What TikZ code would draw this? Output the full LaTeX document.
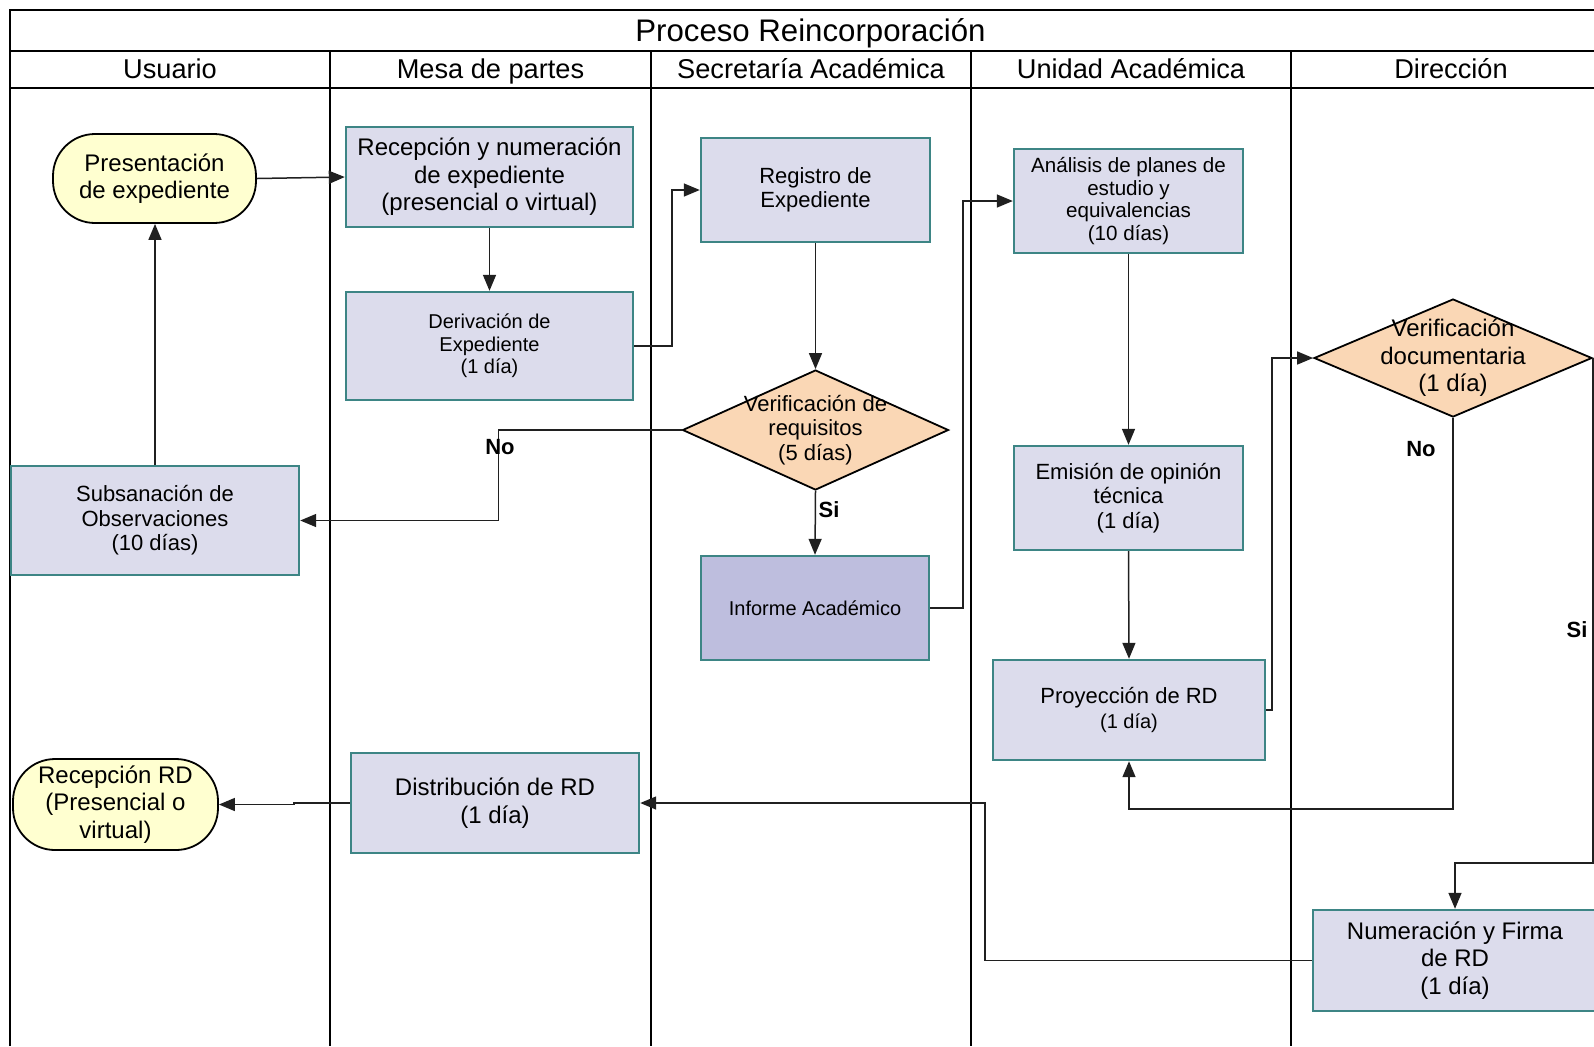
\documentclass[tikz,border=0pt]{standalone}
\usepackage{fontspec}
\setmainfont{Liberation Sans}
\usetikzlibrary{arrows.meta,shapes.geometric}

\definecolor{boxfill}{HTML}{DCDCEC}
\definecolor{infofill}{HTML}{BEBEDE}
\definecolor{decfill}{HTML}{FAD7B5}
\definecolor{termfill}{HTML}{FFFFD0}
\definecolor{boxline}{HTML}{3D8585}
\definecolor{flowline}{HTML}{202020}

\newcommand\fsTitle{\fontsize{15.6}{19}\selectfont}
\newcommand\fsHead{\fontsize{13.6}{16}\selectfont}
\newcommand\fsBig{\fontsize{12}{13.8}\selectfont}
\newcommand\fsMid{\fontsize{11}{12.2}\selectfont}
\newcommand\fsAnal{\fontsize{10.3}{11.3}\selectfont}
\newcommand\fsSmall{\fontsize{10}{11.2}\selectfont}

\begin{document}
\begin{tikzpicture}[x=0.5pt,y=-0.5pt,
  lane/.style={line width=1pt,draw=black},
  headtext/.style={anchor=base,inner sep=0pt},
  procbox/.style={draw=boxline,line width=1.2pt,fill=boxfill,align=center,
    inner sep=0pt,font=\fsMid},
  infobox/.style={procbox,fill=infofill},
  termbox/.style={draw=black,line width=0.9pt,fill=termfill,align=center,
    inner sep=0pt,rounded corners=21pt,font=\fsBig},
  decbox/.style={diamond,draw=black,line width=0.9pt,fill=decfill,
    inner sep=0pt,aspect=2},
  dectext/.style={align=center,inner sep=0pt},
  flow/.style={draw=flowline,line width=0.75pt,
    -{Triangle[length=8pt,width=6.5pt]}},
  lbl/.style={font=\bfseries\fsMid,inner sep=0pt}]

\useasboundingbox (0,0) rectangle (1594,1046);
\begin{scope}
\clip (0,0) rectangle (1594,1046);

% swimlane frame
\draw[lane] (10,1046) -- (10,10) -- (1611,10) -- (1611,1046);
\draw[lane] (10,51) -- (1611,51);
\draw[lane] (10,88) -- (1611,88);
\foreach \lx in {330,651,971,1291}
  \draw[lane] (\lx,51) -- (\lx,1046);

\node[headtext,font=\fsTitle] (title) at (810.5,41) {Proceso Reincorporación};
\node[headtext,font=\fsHead] (h1) at (170,78.5) {Usuario};
\node[headtext,font=\fsHead] (h2) at (490.5,78.5) {Mesa de partes};
\node[headtext,font=\fsHead] (h3) at (811,78.5) {Secretaría Académica};
\node[headtext,font=\fsHead] (h4) at (1131,78.5) {Unidad Académica};
\node[headtext,font=\fsHead] (h5) at (1451,78.5) {Dirección};

% Usuario
\node[termbox,minimum width=101.5pt,minimum height=44.5pt] (pres) at (154.5,178.5)
  {Presentación\\de expediente};
\node[procbox,font=\fsMid,minimum width=144pt,minimum height=54.5pt] (sub) at (155,520.5)
  {Subsanación de\\Observaciones\\(10 días)};
\node[termbox,minimum width=102.5pt,minimum height=45.5pt] (rrd) at (115.5,804.5)
  {Recepción RD\\(Presencial o\\virtual)};

% Mesa de partes
\node[procbox,font=\fsBig,minimum width=143.5pt,minimum height=50pt] (recep) at (489.5,177)
  {Recepción y numeración\\de expediente\\(presencial o virtual)};
\node[procbox,font=\fsSmall,minimum width=143.5pt,minimum height=54pt] (deriv) at (489.5,346)
  {Derivación de\\Expediente\\(1 día)};
\node[procbox,font=\fsBig,minimum width=144pt,minimum height=50pt] (dist) at (495,803)
  {Distribución de RD\\(1 día)};

% Secretaría Académica
\node[procbox,minimum width=114.5pt,minimum height=52pt] (reg) at (815.5,190)
  {Registro de\\Expediente};
\node[decbox,minimum width=133pt,minimum height=60pt,
  label={[dectext,font=\fsMid]center:{Verificación de\\requisitos\\(5 días)}}] (d1) at (815.5,430) {};
\node[infobox,font=\fsSmall,minimum width=114pt,minimum height=52pt] (inf) at (815,608)
  {Informe Académico};

% Unidad Académica
\node[procbox,font=\fsAnal,minimum width=114.5pt,minimum height=52pt] (anal) at (1128.5,201)
  {Análisis de planes de\\estudio y\\equivalencias\\(10 días)};
\node[procbox,minimum width=114.5pt,minimum height=52pt] (emis) at (1128.5,498)
  {Emisión de opinión\\técnica\\(1 día)};
\node[procbox,minimum width=136pt,minimum height=50pt] (proy) at (1129,710)
  {Proyección de RD\\{\fsSmall(1 día)}};

% Dirección
\node[decbox,minimum width=139pt,minimum height=59pt,
  label={[dectext,font=\fsBig]center:{Verificación\\documentaria\\(1 día)}}] (d2) at (1453,358) {};
\node[procbox,font=\fsBig,minimum width=142pt,minimum height=50.5pt] (num) at (1455,960.5)
  {Numeración y Firma\\de RD\\(1 día)};

% connectors
\draw[flow] (pres.east) -- (recep.west);
\draw[flow] (recep.south) -- (deriv.north);
\draw[flow] (deriv.east) -- ++(38,0) |- (reg.west);
\draw[flow] (reg.south) -- (d1.north);
\draw[flow] (d1.west) -- ++(-183,0) |- (sub.east);
\draw[flow] (d1.south) -- (inf.north);
\draw[flow] (sub.north) -- (sub.north |- pres.south);
\draw[flow] (inf.east) -- ++(33,0) |- (anal.west);
\draw[flow] (anal.south) -- (emis.north);
\draw[flow] (emis.south) -- (proy.north);
\draw[flow] (proy.east) -- ++(6,0) |- (d2.west);
\draw[flow] (d2.south) -- ++(0,391) -| (proy.south);
\draw[flow] (d2.east) -- ++(0,505) -| (num.north);
\draw[flow] (num.west) -- ++(-327,0) |- (dist.east);
\draw[flow] (dist.west) -- ++(-56,0) |- (rrd.east);

% branch labels
\node[lbl] (no1) at (500,447) {No};
\node[lbl] (si1) at (829,510) {Si};
\node[lbl] (no2) at (1421,449) {No};
\node[lbl] (si2) at (1577,630) {Si};
\end{scope}
\end{tikzpicture}
\end{document}
